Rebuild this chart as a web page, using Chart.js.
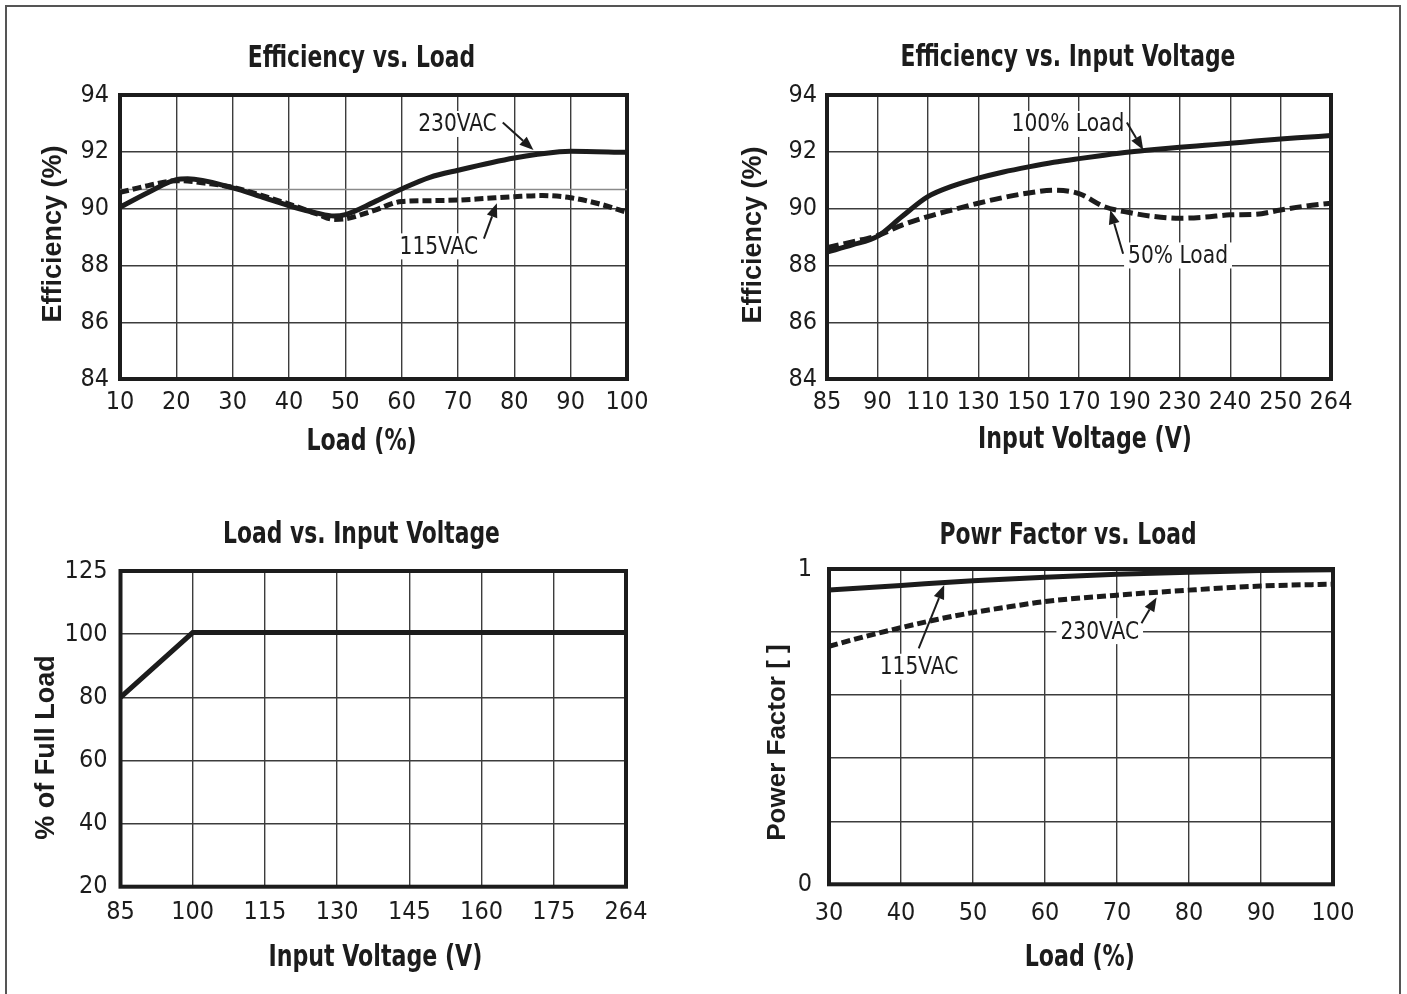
<!DOCTYPE html>
<html>
<head>
<meta charset="utf-8">
<script src="https://cdn.jsdelivr.net/npm/chart.js@4.4.1/dist/chart.umd.min.js"></script>
<style>
  html, body { margin: 0; padding: 0; background: #fff; }
  body { width: 1407px; height: 994px; position: relative; overflow: hidden; }
  #frame { position: absolute; left: 5px; top: 5px; width: 1396px; height: 1000px;
           border: 2px solid #555; border-bottom: none; box-sizing: border-box; }
  .wrap { position: absolute; }
</style>
</head>
<body>
<div id="frame"></div>
<div class="wrap" style="left:0px;top:0px;width:723px;height:470px"><canvas id="c1"></canvas></div>
<div class="wrap" style="left:730px;top:0px;width:676px;height:470px"><canvas id="c2"></canvas></div>
<div class="wrap" style="left:0px;top:480px;width:723px;height:514px"><canvas id="c3"></canvas></div>
<div class="wrap" style="left:730px;top:480px;width:676px;height:514px"><canvas id="c4"></canvas></div>
<script>
// ---------------- DATA ----------------
// Chart 1: Efficiency vs. Load
const load230X = [10,15,20,22,30,35,40,45,48,50,55,60,65,70,80,88,90,100];
const eff230   = [90.05,90.57,91.02,91.05,90.73,90.42,90.1,89.84,89.74,89.79,90.22,90.69,91.1,91.35,91.78,92.0,92.02,91.98];
const load115X = [10,15,20,22,25,30,35,40,45,48,50,55,60,65,70,75,80,85,90,95,100];
const eff115   = [90.57,90.81,90.98,90.97,90.9,90.75,90.47,90.16,89.81,89.62,89.64,89.93,90.25,90.28,90.3,90.36,90.42,90.46,90.38,90.17,89.87];
const refLineX = [10,100];
const refLineY = [90.67,90.67];

// Chart 2: Efficiency vs. Input Voltage (axis is not linear: category positions)
const vinCats  = ['85','87.5','90','100','110','120','130','140','150','160','170','180','190','210','230','235','240','245','250','257','264'];
const vinMajor = ['85','90','110','130','150','170','190','230','240','250','264'];
const eff100   = [88.47,88.72,89.02,89.74,90.42,90.8,91.07,91.29,91.47,91.63,91.76,91.88,91.99,92.08,92.16,92.23,92.3,92.38,92.45,92.51,92.57];
const eff50    = [88.62,88.83,89.05,89.43,89.72,89.96,90.19,90.39,90.55,90.65,90.53,90.07,89.86,89.72,89.66,89.7,89.78,89.8,89.95,90.09,90.19];

// Chart 3: Load vs. Input Voltage
const vin3Cats   = ['85','100','115','130','145','160','175','264'];
const fullLoad   = [80,100.5,100.5,100.5,100.5,100.5,100.5,100.5];
const loadTickLabels = ['20','40','60','80','100','125'];

// Chart 4: Power Factor vs. Load
const pf115X = [30,40,50,60,70,80,90,100];
const pf115  = [0.933,0.948,0.963,0.974,0.983,0.99,0.995,0.998];
const pf230X = [30,35,40,45,50,55,60,70,80,90,100];
const pf230  = [0.755,0.786,0.814,0.84,0.862,0.88,0.897,0.917,0.933,0.946,0.952];

// Annotations (in data coordinates)
const notes1 = {
  labels: [{text:'230VAC', at:[69.9, 92.98]}, {text:'115VAC', at:[66.6, 88.67]}],
  arrows: [{from:[77.95, 93.03], to:[83.4, 92.06]}, {from:[74.6, 88.94], to:[76.9, 90.19]}]
};
const notes2 = {
  labels: [{text:'100% Load', at:[9.56, 92.98]}, {text:'50% Load', at:[13.93, 88.35]}],
  arrows: [{from:[11.9, 93.03], to:[12.55, 92.06]}, {from:[11.75, 88.41], to:[11.24, 89.95]}]
};
const notes4 = {
  labels: [{text:'115VAC', at:[42.5, 0.69]}, {text:'230VAC', at:[67.6, 0.803]}],
  arrows: [{from:[42.46, 0.748], to:[46.0, 0.949]}, {from:[73.4, 0.828], to:[75.5, 0.91]}]
};

// ---------------- STYLE ----------------
const NARROW = '"Liberation Sans Narrow", "Arial Narrow", "DejaVu Sans Condensed", sans-serif';
const WIDE = '"Liberation Sans", Arial, sans-serif';
const INK = '#1c1c1c';
const GRID = '#3c3c3c';
Chart.defaults.font.family = NARROW;
Chart.defaults.color = INK;
Chart.defaults.animation = false;

const pts = (xs, ys) => xs.map((v, i) => ({x: v, y: ys[i]}));

function squeezeText(ctx, text, x, y, sx, rot) {
  ctx.save();
  ctx.translate(x, y);
  if (rot) ctx.rotate(rot);
  ctx.scale(sx, 1);
  ctx.fillText(text, 0, 0);
  ctx.restore();
}

const framePlugin = {
  id: 'frame',
  beforeDatasetsDraw(chart) {
    const {ctx, chartArea: a} = chart;
    ctx.save();
    ctx.strokeStyle = INK; ctx.lineWidth = 4;
    ctx.strokeRect(a.left, a.top, a.right - a.left, a.bottom - a.top);
    ctx.restore();
  }
};

// chart title + axis titles
const titlePlugin = {
  id: 'ctitle',
  afterDraw(chart, args, o) {
    const ctx = chart.ctx;
    ctx.save();
    ctx.fillStyle = INK; ctx.textAlign = 'center';
    ctx.font = 'bold 30px ' + NARROW;
    ctx.textBaseline = 'alphabetic';
    squeezeText(ctx, o.text, chart.width / 2, o.baseline, 0.81);
    ctx.textBaseline = 'middle';
    squeezeText(ctx, o.xText, o.xTitle[0], o.xTitle[1], 0.82);
    ctx.font = 'bold ' + o.ySize + 'px ' + WIDE;
    squeezeText(ctx, o.yText, o.yTitle[0], o.yTitle[1], 1, -Math.PI / 2);
    ctx.restore();
  }
};

const notesPlugin = {
  id: 'notes',
  beforeDatasetsDraw(chart, args, opts) {
    if (!opts.labels) return;
    const {ctx, scales: {x, y}} = chart;
    ctx.save();
    ctx.font = '25px ' + NARROW;
    ctx.textAlign = 'center'; ctx.textBaseline = 'middle';
    opts.labels.forEach(l => {
      const px = x.getPixelForValue(l.at[0]), py = y.getPixelForValue(l.at[1]);
      const w = ctx.measureText(l.text).width * 0.9;
      ctx.fillStyle = '#fff';
      ctx.fillRect(px - w / 2 - 4, py - 13, w + 8, 26);
      ctx.fillStyle = INK;
      squeezeText(ctx, l.text, px, py + 1, 0.9);
    });
    ctx.restore();
  },
  afterDatasetsDraw(chart, args, opts) {
    if (!opts.arrows) return;
    const {ctx, scales: {x, y}} = chart;
    ctx.save();
    ctx.strokeStyle = INK; ctx.fillStyle = INK; ctx.lineWidth = 2;
    opts.arrows.forEach(a => {
      const x1 = x.getPixelForValue(a.from[0]), y1 = y.getPixelForValue(a.from[1]);
      const x2 = x.getPixelForValue(a.to[0]), y2 = y.getPixelForValue(a.to[1]);
      const ang = Math.atan2(y2 - y1, x2 - x1);
      const L = 14, H = 5.5;
      const bx = x2 - L * Math.cos(ang), by = y2 - L * Math.sin(ang);
      ctx.beginPath(); ctx.moveTo(x1, y1); ctx.lineTo(bx, by); ctx.stroke();
      ctx.beginPath();
      ctx.moveTo(x2, y2);
      ctx.lineTo(bx + H * Math.sin(ang), by - H * Math.cos(ang));
      ctx.lineTo(bx - H * Math.sin(ang), by + H * Math.cos(ang));
      ctx.closePath(); ctx.fill();
    });
    ctx.restore();
  }
};

function makeChart(id, cfg) {
  const c = document.getElementById(id);
  const g = cfg.geom;
  const scaleLeft = 20;
  const yW = g.left - scaleLeft;
  const scaleBottom = g.h - 10;
  const xH = scaleBottom - g.bottom;
  const tickFont = {family: NARROW, size: 25};
  const xScale = Object.assign({
    grid: {color: cfg.xGridColor || GRID, lineWidth: 1.4, drawTicks: false},
    border: {display: false},
    ticks: Object.assign({font: tickFont, color: INK, padding: g.xPad, maxRotation: 0, autoSkip: false}, cfg.xTicks || {}),
    afterFit: s => { s.height = xH; }
  }, cfg.x);
  const yScale = Object.assign({
    grid: {color: GRID, lineWidth: 1.4, drawTicks: false},
    border: {display: false},
    ticks: Object.assign({font: tickFont, color: INK, padding: g.yPad}, cfg.yTicks || {}),
    afterFit: s => { s.width = yW; }
  }, cfg.y);
  return new Chart(c, {
    type: 'line',
    data: cfg.data,
    options: {
      responsive: false,
      maintainAspectRatio: false,
      layout: {padding: {left: scaleLeft, top: g.top, right: g.w - g.right, bottom: g.h - scaleBottom}},
      plugins: {legend: {display: false}, tooltip: {enabled: false},
                ctitle: {text: cfg.title, baseline: g.titleBase, xText: cfg.xTitle, yText: cfg.yTitle,
                         xTitle: g.xTitle, yTitle: g.yTitle, ySize: g.ySize || 27},
                notes: cfg.notes || {}},
      elements: {point: {radius: 0}, line: {borderCapStyle: 'butt', borderJoinStyle: 'round'}},
      scales: {x: xScale, y: yScale}
    },
    plugins: [framePlugin, titlePlugin, notesPlugin]
  });
}

function sizeCanvas(id, w, h) {
  const c = document.getElementById(id);
  c.width = w; c.height = h; c.style.width = w + 'px'; c.style.height = h + 'px';
}
sizeCanvas('c1', 723, 470); sizeCanvas('c2', 676, 470);
sizeCanvas('c3', 723, 514); sizeCanvas('c4', 676, 514);

// Chart 1
makeChart('c1', {
  title: 'Efficiency vs. Load',
  xTitle: 'Load (%)', yTitle: 'Efficiency (%)',
  geom: {w: 723, h: 470, left: 120, right: 627, top: 95, bottom: 379, xPad: 8.5, yPad: 11, titleBase: 66.5,
         xTitle: [361.6, 442], yTitle: [53.6, 234]},
  x: {type: 'linear', min: 10, max: 100},
  xTicks: {stepSize: 10},
  y: {type: 'linear', min: 84, max: 94},
  yTicks: {stepSize: 2},
  notes: notes1,
  data: {datasets: [
    {data: pts(refLineX, refLineY), borderColor: '#8a8a8a', borderWidth: 1.4, tension: 0, order: 3},
    {data: pts(load115X, eff115), borderColor: INK, borderWidth: 5, borderDash: [9, 4], cubicInterpolationMode: 'monotone', order: 2},
    {data: pts(load230X, eff230), borderColor: INK, borderWidth: 5, cubicInterpolationMode: 'monotone', order: 1}
  ]}
});

// Chart 2
const majorColor = ctx => vinMajor.includes(vinCats[ctx.index]) ? GRID : 'rgba(0,0,0,0)';
makeChart('c2', {
  title: 'Efficiency vs. Input Voltage',
  xTitle: 'Input Voltage (V)', yTitle: 'Efficiency (%)',
  geom: {w: 676, h: 470, left: 97, right: 601, top: 95, bottom: 379, xPad: 8.5, yPad: 10, titleBase: 66,
         xTitle: [355, 440], yTitle: [23.3, 235]},
  x: {type: 'category'},
  xGridColor: majorColor,
  xTicks: {callback: (v, i) => vinMajor.includes(vinCats[i]) ? vinCats[i] : ''},
  y: {type: 'linear', min: 84, max: 94},
  yTicks: {stepSize: 2},
  notes: notes2,
  data: {labels: vinCats, datasets: [
    {data: eff50, borderColor: INK, borderWidth: 5, borderDash: [12, 5], cubicInterpolationMode: 'monotone', order: 2},
    {data: eff100, borderColor: INK, borderWidth: 5, cubicInterpolationMode: 'monotone', order: 1}
  ]}
});

// Chart 3 (ticks are evenly spaced, top one labelled 125)
makeChart('c3', {
  title: 'Load vs. Input Voltage',
  xTitle: 'Input Voltage (V)', yTitle: '% of Full Load',
  geom: {w: 723, h: 514, left: 120.5, right: 626, top: 91, bottom: 406.7, xPad: 11, yPad: 13, titleBase: 62.7,
         xTitle: [375.4, 478], yTitle: [47, 267.5]},
  x: {type: 'category'},
  y: {type: 'linear', min: 20, max: 120},
  yTicks: {stepSize: 20, callback: (v, i) => loadTickLabels[i]},
  data: {labels: vin3Cats, datasets: [
    {data: fullLoad, borderColor: INK, borderWidth: 5, tension: 0, borderJoinStyle: 'miter'}
  ]}
});

// Chart 4
makeChart('c4', {
  title: 'Powr Factor vs. Load',
  xTitle: 'Load (%)', yTitle: 'Power Factor [ ]',
  geom: {w: 676, h: 514, left: 99, right: 603, top: 89, bottom: 404.3, xPad: 14, yPad: 17, titleBase: 64.3,
         xTitle: [349.8, 478], yTitle: [47.8, 262.5], ySize: 26},
  x: {type: 'linear', min: 30, max: 100},
  xTicks: {stepSize: 10},
  y: {type: 'linear', min: 0, max: 1},
  yTicks: {stepSize: 0.2, callback: v => (Math.abs(v - 1) < 1e-6 ? '1' : (Math.abs(v) < 1e-6 ? '0' : ''))},
  notes: notes4,
  data: {datasets: [
    {data: pts(pf230X, pf230), borderColor: INK, borderWidth: 5, borderDash: [9, 4], cubicInterpolationMode: 'monotone', order: 2},
    {data: pts(pf115X, pf115), borderColor: INK, borderWidth: 5, cubicInterpolationMode: 'monotone', order: 1}
  ]}
});
</script>
</body>
</html>
